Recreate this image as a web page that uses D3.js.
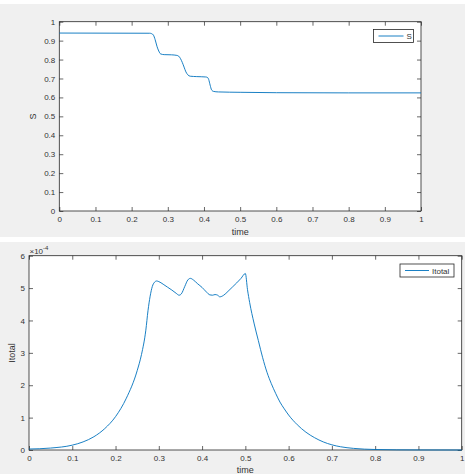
<!DOCTYPE html>
<html>
<head>
<meta charset="utf-8">
<script src="https://cdn.jsdelivr.net/npm/d3@7"></script>
<style>
  body { margin: 0; background: #fff; }
  svg { display: block; font-family: "Liberation Sans", Arial, sans-serif; }
</style>
</head>
<body>
<svg width="465" height="474"></svg>
<script>
// The data
const sTime = [0, 0.25, 0.255, 0.26, 0.265, 0.27, 0.275, 0.28, 0.29, 0.31, 0.325, 0.33, 0.335, 0.34, 0.345, 0.35, 0.355, 0.362, 0.38, 0.405, 0.41, 0.413, 0.417, 0.421, 0.426, 0.44, 0.5, 0.6, 0.8, 1];
const sValue = [0.94, 0.939, 0.937, 0.93, 0.905, 0.87, 0.845, 0.83, 0.826, 0.825, 0.822, 0.818, 0.805, 0.785, 0.76, 0.735, 0.72, 0.712, 0.71, 0.708, 0.705, 0.695, 0.665, 0.64, 0.632, 0.629, 0.627, 0.625, 0.624, 0.624];

const iTime = [0, 0.05, 0.1, 0.125, 0.15, 0.175, 0.2, 0.225, 0.25, 0.26, 0.27, 0.275, 0.28, 0.285, 0.29, 0.295, 0.3, 0.31, 0.32, 0.33, 0.34, 0.347, 0.352, 0.36, 0.367, 0.373, 0.38, 0.39, 0.4, 0.41, 0.418, 0.424, 0.43, 0.436, 0.441, 0.45, 0.46, 0.47, 0.48, 0.49, 0.5, 0.505, 0.51, 0.52, 0.53, 0.54, 0.55, 0.56, 0.57, 0.58, 0.59, 0.6, 0.62, 0.64, 0.66, 0.68, 0.7, 0.72, 0.75, 0.8, 0.85, 0.9, 1];
// in units of 1e-4
const iValue = [0.03, 0.06, 0.15, 0.25, 0.41, 0.66, 1.03, 1.6, 2.45, 2.95, 3.7, 4.3, 4.75, 5.05, 5.18, 5.22, 5.2, 5.12, 5.03, 4.94, 4.84, 4.78, 4.82, 5.05, 5.25, 5.3, 5.25, 5.13, 5.02, 4.88, 4.79, 4.78, 4.8, 4.78, 4.73, 4.78, 4.9, 5.03, 5.16, 5.3, 5.45, 4.95, 4.55, 3.92, 3.38, 2.85, 2.4, 2.05, 1.75, 1.48, 1.27, 1.08, 0.78, 0.55, 0.38, 0.25, 0.16, 0.1, 0.05, 0.015, 0.005, 0.002, 0];

const timeTicks = [0, 0.1, 0.2, 0.3, 0.4, 0.5, 0.6, 0.7, 0.8, 0.9, 1];
const timeLabels = ['0', '0.1', '0.2', '0.3', '0.4', '0.5', '0.6', '0.7', '0.8', '0.9', '1'];
const sTicks = [0, 0.1, 0.2, 0.3, 0.4, 0.5, 0.6, 0.7, 0.8, 0.9, 1];
const sLabels = ['0', '0.1', '0.2', '0.3', '0.4', '0.5', '0.6', '0.7', '0.8', '0.9', '1'];
const iTicks = [0, 1, 2, 3, 4, 5, 6];
const iLabels = ['0', '1', '2', '3', '4', '5', '6'];

const svg = d3.select('svg');
const ink = '#262626';
const blue = '#0072bd';

// two figure backgrounds with a white gap
svg.append('rect').attr('x', 0).attr('y', 4).attr('width', 465).attr('height', 233).attr('fill', '#f0f0f0');
svg.append('rect').attr('x', 0).attr('y', 242).attr('width', 465).attr('height', 232).attr('fill', '#f0f0f0');

function panel({left, right, top, bottom, xs, ys, yDomain, yTicks, yLabels, yName, yNameX, yNameY, xNameY, legend, legendBox}) {
  const x = d3.scaleLinear().domain([0, 1]).range([left, right]);
  const y = d3.scaleLinear().domain(yDomain).range([bottom, top]);
  const g = svg.append('g');

  g.append('rect')
    .attr('x', left).attr('y', top)
    .attr('width', right - left).attr('height', bottom - top)
    .attr('fill', '#fff');

  const tick = 4;
  const style = (sel, labels) => {
    sel.select('.domain').remove();
    sel.selectAll('line').attr('stroke', ink).attr('stroke-width', 0.7);
    sel.selectAll('text').attr('fill', '#333').style('font-size', '8px');
    if (!labels) sel.selectAll('text').remove();
  };

  g.append('g').attr('transform', `translate(0,${bottom})`)
    .call(d3.axisBottom(x).tickValues(timeTicks).tickFormat((d, i) => timeLabels[i]).tickSize(-tick).tickPadding(5))
    .call(s => style(s, true));
  g.append('g').attr('transform', `translate(0,${top})`)
    .call(d3.axisTop(x).tickValues(timeTicks).tickSize(-tick))
    .call(s => style(s, false));
  g.append('g').attr('transform', `translate(${left},0)`)
    .call(d3.axisLeft(y).tickValues(yTicks).tickFormat((d, i) => yLabels[i]).tickSize(-tick).tickPadding(4))
    .call(s => style(s, true));
  g.append('g').attr('transform', `translate(${right},0)`)
    .call(d3.axisRight(y).tickValues(yTicks).tickSize(-tick))
    .call(s => style(s, false));

  g.append('rect')
    .attr('x', left).attr('y', top)
    .attr('width', right - left).attr('height', bottom - top)
    .attr('fill', 'none').attr('stroke', ink).attr('stroke-width', 0.8);

  const pts = xs.map((t, i) => [t, ys[i]]);
  g.append('path')
    .datum(pts)
    .attr('fill', 'none')
    .attr('stroke', blue)
    .attr('stroke-width', 0.9)
    .attr('d', d3.line().x(d => x(d[0])).y(d => y(d[1])).curve(d3.curveMonotoneX));

  g.append('text')
    .attr('x', (left + right) / 2).attr('y', xNameY)
    .attr('text-anchor', 'middle').attr('fill', '#333')
    .style('font-size', '9px')
    .text('time');

  g.append('text')
    .attr('transform', `translate(${yNameX},${yNameY}) rotate(-90)`)
    .attr('text-anchor', 'middle').attr('fill', '#333')
    .style('font-size', '9px')
    .text(yName);

  // legend
  const b = legendBox;
  g.append('rect')
    .attr('x', b.x).attr('y', b.y).attr('width', b.w).attr('height', b.h)
    .attr('fill', '#fff').attr('stroke', ink).attr('stroke-width', 0.8);
  g.append('line')
    .attr('x1', b.x + 5).attr('x2', b.x + 5 + b.line)
    .attr('y1', b.y + b.h / 2).attr('y2', b.y + b.h / 2)
    .attr('stroke', blue).attr('stroke-width', 0.9);
  g.append('text')
    .attr('x', b.x + 8 + b.line).attr('y', b.y + b.h / 2 + 3)
    .attr('fill', '#333').style('font-size', '8px')
    .text(legend);

  return {x, y};
}

panel({
  left: 59.3, right: 421, top: 21.7, bottom: 211,
  xs: sTime, ys: sValue, yDomain: [0, 1], yTicks: sTicks, yLabels: sLabels,
  yName: 'S', yNameX: 36, yNameY: 116.5, xNameY: 234.5,
  legend: 'S', legendBox: {x: 373.5, y: 29.5, w: 40, h: 13, line: 25}
});

panel({
  left: 29, right: 461.7, top: 255.7, bottom: 450,
  xs: iTime, ys: iValue, yDomain: [0, 6], yTicks: iTicks, yLabels: iLabels,
  yName: 'Itotal', yNameX: 15, yNameY: 353, xNameY: 472.5,
  legend: 'Itotal', legendBox: {x: 400, y: 264, w: 54, h: 13, line: 24}
});

// exponent label
const exp = svg.append('text').attr('x', 29.5).attr('y', 254).attr('fill', '#333').style('font-size', '8px');
exp.append('tspan').text('\u00d710');
exp.append('tspan').attr('dy', -4).style('font-size', '6px').text('-4');
</script>
</body>
</html>
